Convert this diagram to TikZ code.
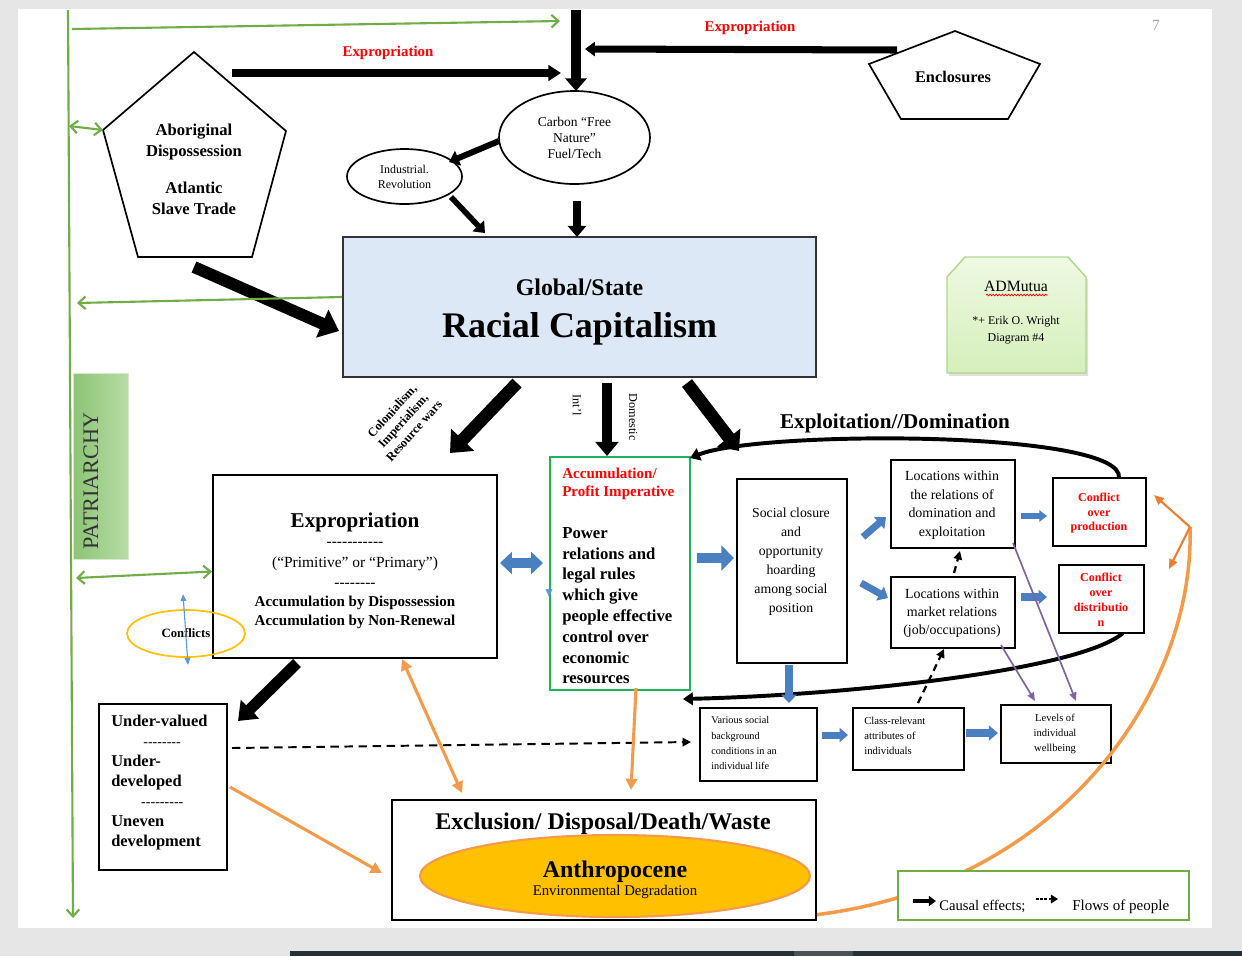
\documentclass[tikz,border=0pt]{standalone}
\usepackage{fontspec}
\setmainfont{Liberation Serif}
\usetikzlibrary{arrows.meta,shapes.geometric,calc,decorations.pathmorphing,shadows}
\definecolor{gline}{HTML}{70AD47}
\definecolor{oline}{HTML}{F39B4B}
\definecolor{oline2}{HTML}{ED7D31}
\definecolor{bfill}{HTML}{4A80C0}
\definecolor{bthin}{HTML}{5B9BD5}
\definecolor{rcfill}{HTML}{DCE8F5}
\definecolor{accgreen}{HTML}{1FB25A}
\definecolor{purp}{HTML}{8064A2}
\definecolor{gold}{HTML}{FFC000}
\definecolor{pagebg}{HTML}{E6E6E6}
\definecolor{barbg}{HTML}{263238}
\definecolor{barlt}{HTML}{4A5258}
\definecolor{admfill1}{HTML}{EEF9E2}
\definecolor{admfill2}{HTML}{D5EFBA}
\definecolor{admline}{HTML}{AED68E}
\definecolor{patl}{HTML}{8CC474}
\definecolor{patr}{HTML}{B8DCA6}
\definecolor{redt}{HTML}{FF0000}
\newcommand\fs[2]{\fontsize{#1}{#2}\selectfont}
\tikzset{
  bw/.style={minimum width=#1*0.025cm},
  bh/.style={minimum height=#1*0.025cm},
  box/.style={draw=black, line width=1.4pt, fill=white, inner sep=0pt, rectangle},
  txt/.style={inner sep=0pt, align=center},
  ltxt/.style={inner sep=0pt, align=left},
  garr/.style={draw=gline, line width=1.5pt},
  gtip/.style={-{Straight Barb[length=5pt,width=9pt]}},
  gdbl/.style={{Straight Barb[length=5pt,width=9pt]}-{Straight Barb[length=5pt,width=9pt]}},
  oarr/.style={draw=oline, line width=2.2pt},
  otip/.style={-{Triangle[length=8pt,width=8pt]}},
  barr/.style={draw=bfill},
  parr/.style={draw=purp, line width=1.2pt, -{Triangle[length=6pt,width=5pt]}},
}
\begin{document}
\begin{tikzpicture}[x=0.025cm,y=-0.025cm]
\useasboundingbox (0,0) rectangle (1242,956);
\fill[pagebg] (0,0) rectangle (1242,956);
\fill[white] (18,9) rectangle (1212,928);
\fill[barbg] (290,951) rectangle (1242,956);
\fill[barlt] (794,951) rectangle (853,956);

% ---------- green frame lines ----------
\coordinate (gTop) at (68,10);
\coordinate (gBot) at (73,918);
\draw[garr,gtip] (gTop) -- (gBot);

\node[left color=patl, right color=patr, draw=patr!60!white, line width=0.6pt, bw=55, bh=186, inner sep=0pt] (patbox) at (100.5,466) {};
\node[rotate=90, inner sep=0pt, font=\fs{15.8}{18}, text=black!80] (patT) at (91,481) {PATRIARCHY};

% ---------- pentagons ----------
\coordinate (abT) at (194,52);
\coordinate (abR) at (286,131);
\coordinate (abBR) at (252,257);
\coordinate (abBL) at (138,257);
\coordinate (abL) at (103,130);
\draw[line width=1.2pt] (abT) -- (abR) -- (abBR) -- (abBL) -- (abL) -- cycle;
\node[txt, font=\bfseries\fs{11.8}{15}] (abo) at (194,169.5) {Aboriginal\\Dispossession\\[11.3pt]Atlantic\\Slave Trade};

\coordinate (enT) at (955,31);
\coordinate (enR) at (1040,64);
\coordinate (enBR) at (1008,119);
\coordinate (enBL) at (901,119);
\coordinate (enL) at (869,64);
\draw[line width=1.2pt] (enT) -- (enR) -- (enBR) -- (enBL) -- (enL) -- cycle;
\node[txt, font=\bfseries\fs{11.6}{14}] (enc) at (953,77) {Enclosures};

% ---------- ellipses ----------
\node[draw, ellipse, line width=1.2pt, bw=151, bh=93, inner sep=0pt, align=center, font=\fs{9.6}{11.4}] (carb) at (574.5,137.5) {Carbon “Free\\Nature”\\Fuel/Tech};
\node[draw, ellipse, line width=1.2pt, bw=115, bh=55, inner sep=0pt, align=center, font=\fs{8.5}{10.7}] (ind) at (404.5,176.5) {Industrial.\\Revolution};

% ---------- top arrows ----------
\coordinate (gA1) at (72,29);
\coordinate (gA2) at (560,21);
\draw[garr,gtip] (gA1) -- (gA2);
\coordinate (gB1) at (69,126);
\draw[garr,gdbl] (gB1) -- (abL);

\coordinate (ex1s) at (232,73);
\coordinate (ex1e) at (561,73);
\draw[line width=5pt, -{Triangle[length=9pt,width=11pt]}] (ex1s) -- (ex1e);
\node[font=\bfseries\fs{10.6}{12}, text=redt, inner sep=0pt] (expLab1) at (388,53) {Expropriation};

\coordinate (vTop) at (576,10);
\coordinate (vBot) at (576,91);
\draw[line width=6.5pt, -{Triangle[length=9pt,width=15pt]}] (vTop) -- (vBot);

\coordinate (encA) at (897,50);
\coordinate (encB) at (585,49);
\draw[line width=5pt, -{Triangle[length=7pt,width=10pt]}] (encA) -- (encB);
\node[font=\bfseries\fs{10.6}{12}, text=redt, inner sep=0pt] (expLab2) at (750,28) {Expropriation};

\node[text=gray!70, font=\fs{11}{12}, inner sep=0pt] (pnum) at (1156,25) {7};

% ---------- Racial capitalism ----------
\node[draw=black!80, fill=rcfill, line width=1.5pt, inner sep=0pt, bw=473, bh=140] (rc) at (579.5,307) {};
\node[txt, font=\bfseries\fs{17}{30}] (rcT) at (579.5,312) {Global/State\\\fs{25.6}{30}Racial Capitalism};

\coordinate (cI1) at (499,141);
\coordinate (cI2) at (449,162);
\draw[line width=4.3pt, -{Triangle[length=7pt,width=11pt]}] (cI1) -- (cI2);
\coordinate (iR1) at (451,197);
\coordinate (iR2) at (485,233);
\draw[line width=4pt, -{Triangle[length=7pt,width=11pt]}] (iR1) -- (iR2);
\coordinate (cR1) at (577,201);
\coordinate (cR2) at (577,237);
\draw[line width=5pt, -{Triangle[length=8pt,width=13pt]}] (cR1) -- (cR2);
\coordinate (aR1) at (194,267);
\coordinate (aR2) at (339,331);
\draw[line width=8.5pt, -{Triangle[length=13pt,width=21pt]}] (aR1) -- (aR2);

\coordinate (gR1) at ($(rc.west)+(0,-10)$);
\coordinate (gR2) at (77,303);
\draw[garr,gtip] (gR1) -- (gR2);

% ---------- ADMutua ----------
\path[draw=admline, line width=1pt, top color=admfill1, bottom color=admfill2, drop shadow={opacity=0.25,shadow xshift=1.5pt,shadow yshift=-2pt}] (947,277) -- (965,257) -- (1068,257) -- (1086,277) -- (1086,373) -- (947,373) -- cycle;
\node[txt, font=\fs{8.5}{12}] (admT) at (1016,312.4) {\fs{11.2}{12}ADMutua\\[11.4pt]*+ Erik O. Wright\\Diagram \#4};
\draw[redt, line width=0.5pt, decorate, decoration={snake, amplitude=0.6pt, segment length=2.2pt}] (986,295) -- (1048,295);

% ---------- arrows out of racial capitalism ----------
\coordinate (rA1) at (517,383);
\coordinate (rA2) at (450,453);
\draw[line width=9pt, -{Triangle[length=13pt,width=22pt]}] (rA1) -- (rA2);
\coordinate (rB1) at (607,383);
\coordinate (rB2) at (607,456);
\draw[line width=7.5pt, -{Triangle[length=10pt,width=16pt]}] (rB1) -- (rB2);
\coordinate (rC1) at (687,383);
\coordinate (rC2) at (739,451);
\draw[line width=9pt, -{Triangle[length=12pt,width=20pt]}] (rC1) -- (rC2);

\node[txt, rotate=48, font=\bfseries\fs{8.8}{10.5}] (colT) at (403,421) {Colonialism,\\Imperialism,\\Resource wars};
\node[txt, rotate=-90, font=\fs{8.7}{10}] (intT) at (577,405) {Int’l};
\node[txt, rotate=-90, font=\fs{8.7}{10}] (domT) at (633,417) {Domestic};

% ---------- Expropriation box ----------
\node[box, bw=284, bh=183] (exp) at (355,566.5) {};
\node[txt, font=\fs{11}{13.8}] (expT) at (355,571) {\bfseries\fs{15}{13.8}Expropriation\\[-0.6pt]
-{}-{}-{}-{}-{}-{}-{}-{}-{}-{}-\\[1.6pt]
(“Primitive” or “Primary”)\\
-{}-{}-{}-{}-{}-{}-{}-\\
\bfseries\fs{10.7}{13.8}Accumulation by Dispossession\\
\bfseries\fs{10.7}{13.8}Accumulation by Non-Renewal};

\coordinate (gE1) at (76,578);
\coordinate (gE2) at ($(exp.west)+(0,5)$);
\draw[garr,gdbl] (gE1) -- (gE2);

\node[draw=gold, line width=1.2pt, ellipse, bw=118, bh=47, inner sep=0pt, font=\bfseries\fs{9}{10}] (conf) at (186,633.5) {Conflicts};
\coordinate (cf1) at (183,594);
\coordinate (cf2) at (188,665);
\draw[draw=bthin, line width=0.8pt, {Triangle[length=5pt,width=4pt]}-{Triangle[length=5pt,width=4pt]}] (cf1) -- (cf2);

% ---------- Accumulation box ----------
\node[draw=accgreen, line width=1.3pt, fill=white, inner sep=0pt, bw=140, bh=233] (acc) at (620,573.5) {};
\node[ltxt, anchor=north west, font=\bfseries\fs{11.9}{14.8}] (accT) at (562,468) {\fs{10.7}{14.8}\textcolor{redt}{Accumulation/}\\[-2pt]\fs{10.7}{14.8}\textcolor{redt}{Profit Imperative}\\[14.7pt]
Power\\relations and\\legal rules\\which give\\people effective\\control over\\economic\\resources};
\fill[bthin] (545.5,589) -- (552.5,589) -- (549,597) -- cycle;

\coordinate (bA1) at (500,563);
\coordinate (bA2) at (543,563);
\draw[barr, line width=7pt, {Triangle[length=8.5pt,width=15.6pt]}-{Triangle[length=8.5pt,width=15.6pt]}] (bA1) -- (bA2);

% ---------- Exploitation loop ----------
\coordinate (lpA) at (1119,478);
\coordinate (lpB) at (690,458);
\draw[line width=2.8pt, -{Triangle[length=7pt,width=9pt]}] (lpA) .. controls (1125,430) and (760,430) .. (lpB);
\coordinate (lpC) at (1123,633);
\coordinate (lpD) at (683,699);
\draw[line width=2.8pt, -{Triangle[length=7pt,width=9pt]}] (lpC) .. controls (1080,670) and (850,695) .. (lpD);
\node[font=\bfseries\fs{15}{17}, inner sep=0pt] (exdT) at (895,423.4) {Exploitation//Domination};

% ---------- class analysis boxes ----------
\node[box, bw=110, bh=184] (soc) at (792,571) {};
\node[txt, font=\fs{9.8}{13.5}] (socT) at (791,561.4) {Social closure\\and\\opportunity\\hoarding\\among social\\position};

\node[box, bw=124, bh=88] (rel) at (953,504) {};
\node[txt, font=\fs{9.9}{13.3}] (relT) at (952,505) {Locations within\\the relations of\\domination and\\exploitation};

\node[box, bw=124, bh=71] (mkt) at (953,612.5) {};
\node[txt, font=\fs{9.9}{12.8}] (mktT) at (952,613) {Locations within\\market relations\\(job/occupations)};

\node[box, bw=93, bh=68] (prod) at (1099.5,512) {};
\node[txt, font=\bfseries\fs{8.6}{10.3}, text=redt] (prodT) at (1099,513.3) {Conflict\\over\\production};

\node[box, bw=85, bh=68] (dist) at (1101.5,599) {};
\node[txt, font=\bfseries\fs{8.6}{10.6}, text=redt] (distT) at (1101,599.5) {Conflict\\over\\distributio\\n};

\node[box, bw=117, bh=73] (var) at (758.5,744.5) {};
\node[ltxt, anchor=west, font=\fs{7.3}{10.7}] (varT) at (711,743) {Various social\\background\\conditions in an\\individual life};

\node[box, bw=111, bh=62] (cls) at (908.5,739) {};
\node[ltxt, anchor=west, font=\fs{7.6}{10.7}] (clsT) at (864,736) {Class-relevant\\attributes of\\individuals};

\node[box, bw=110, bh=58] (lev) at (1056,734) {};
\node[txt, font=\fs{7.5}{10.7}] (levT) at (1055,733.7) {Levels of\\individual\\wellbeing};

% blue block arrows
\coordinate (b1a) at (697,558); \coordinate (b1b) at (734,558);
\draw[barr, line width=7pt, -{Triangle[length=9pt,width=17.5pt]}] (b1a) -- (b1b);
\coordinate (b2a) at (863,537); \coordinate (b2b) at (886,517);
\draw[barr, line width=5pt, -{Triangle[length=6.5pt,width=11pt]}] (b2a) -- (b2b);
\coordinate (b3a) at (861,583); \coordinate (b3b) at (888,598);
\draw[barr, line width=5pt, -{Triangle[length=6.5pt,width=11pt]}] (b3a) -- (b3b);
\coordinate (b4a) at (1021,516); \coordinate (b4b) at (1047,516);
\draw[barr, line width=3.6pt, -{Triangle[length=5.5pt,width=8pt]}] (b4a) -- (b4b);
\coordinate (b5a) at (1021,597); \coordinate (b5b) at (1047,597);
\draw[barr, line width=5.5pt, -{Triangle[length=6pt,width=10pt]}] (b5a) -- (b5b);
\coordinate (b6a) at (789,665); \coordinate (b6b) at (789,703);
\draw[barr, line width=5.5pt, -{Triangle[length=6pt,width=11pt]}] (b6a) -- (b6b);
\coordinate (b7a) at (822,735); \coordinate (b7b) at (848,735);
\draw[barr, line width=5pt, -{Triangle[length=6pt,width=10pt]}] (b7a) -- (b7b);
\coordinate (b8a) at (966,733); \coordinate (b8b) at (998,733);
\draw[barr, line width=5.5pt, -{Triangle[length=6.5pt,width=10.5pt]}] (b8a) -- (b8b);

% dashed black
\coordinate (d1a) at (918,703); \coordinate (d1b) at (944,649);
\draw[line width=1.6pt, dash pattern=on 5pt off 3.5pt, -{Triangle[length=6pt,width=6pt]}] (d1a) -- (d1b);
\coordinate (d2a) at (954,573); \coordinate (d2b) at (960,551);
\draw[line width=1.6pt, dash pattern=on 5pt off 3.5pt, -{Triangle[length=6pt,width=6pt]}] (d2a) -- (d2b);

% purple
\coordinate (p1a) at (1013,543); \coordinate (p1b) at (1076,701);
\draw[parr] (p1a) -- (p1b);
\coordinate (p2a) at (1001,645); \coordinate (p2b) at (1035,701);
\draw[parr] (p2a) -- (p2b);

% ---------- Under-valued ----------
\node[box, bw=128, bh=166] (und) at (163,787) {};
\node[ltxt, anchor=north west, font=\bfseries\fs{11.7}{14.3}] (undT) at (111,714.6) {Under-valued\\
\hspace*{22.8pt}\mdseries\fs{10}{14.3}-{}-{}-{}-{}-{}-{}-{}-\\
Under-\\developed\\
\hspace*{21.3pt}\mdseries\fs{10}{14.3}-{}-{}-{}-{}-{}-{}-{}-{}-\\
Uneven\\development};

\coordinate (eU1) at (297,663); \coordinate (eU2) at (238,721);
\draw[line width=8pt, -{Triangle[length=12pt,width=18pt]}] (eU1) -- (eU2);

\coordinate (dU1) at (232,748); \coordinate (dU2) at (691,742);
\draw[line width=1.4pt, dash pattern=on 6pt off 4pt, -{Triangle[length=6pt,width=6pt]}] (dU1) -- (dU2);

% ---------- orange big curve & legend ----------
\coordinate (oc1) at (805,916);
\coordinate (ofork) at (1190,527);
\draw[oarr, line width=2.5pt] (oc1) .. controls (1060,890) and (1195,690) .. (ofork);
\coordinate (of1) at (1154,495);
\coordinate (of2) at (1169,569);
\draw[draw=oline2, line width=1.5pt, -{Triangle[length=7pt,width=6pt]}] (ofork) -- (of1);
\draw[draw=oline2, line width=1.5pt, -{Triangle[length=7pt,width=6pt]}] (ofork) -- (of2);

\node[draw=gline, line width=1.2pt, fill=white, inner sep=0pt, bw=291, bh=49] (leg) at (1043.5,895.5) {};
\coordinate (lg1) at (913,901); \coordinate (lg2) at (936,901);
\draw[line width=2.5pt, -{Triangle[length=5pt,width=7pt]}] (lg1) -- (lg2);
\node[anchor=west, inner sep=0pt, font=\fs{10.4}{12}] (lgT1) at (939,906) {Causal effects;};
\coordinate (lg3) at (1036,899); \coordinate (lg4) at (1058,899);
\draw[line width=1pt, dash pattern=on 2pt off 1pt, -{Triangle[length=5pt,width=6pt]}] (lg3) -- (lg4);
\node[anchor=west, inner sep=0pt, font=\fs{10.7}{12}] (lgT2) at (1072,907) {Flows of people};

% ---------- Exclusion ----------
\node[box, bw=424, bh=120] (exc) at (604,860) {};
\node[txt, font=\bfseries\fs{17}{20}] (excT) at (603,823.6) {Exclusion/ Disposal/Death/Waste};
\node[draw=oline, fill=gold, line width=1.5pt, ellipse, bw=390, bh=82, inner sep=0pt] (anth) at (615,876) {};
\node[txt, font=\fs{10.5}{13}] (anthT) at (615,879.7) {\bfseries\fs{17}{13}Anthropocene\\Environmental Degradation};

% orange arrows
\coordinate (oE1) at (402,659); \coordinate (oE2) at (462,793);
\draw[oarr, {Triangle[length=8pt,width=8pt]}-{Triangle[length=8pt,width=8pt]}] (oE1) -- (oE2);
\coordinate (oA1) at (636,688); \coordinate (oA2) at (631,790);
\draw[oarr, otip] (oA1) -- (oA2);
\coordinate (oU1) at (230,787); \coordinate (oU2) at (382,873);
\draw[oarr, otip] (oU1) -- (oU2);
\end{tikzpicture}
\end{document}
